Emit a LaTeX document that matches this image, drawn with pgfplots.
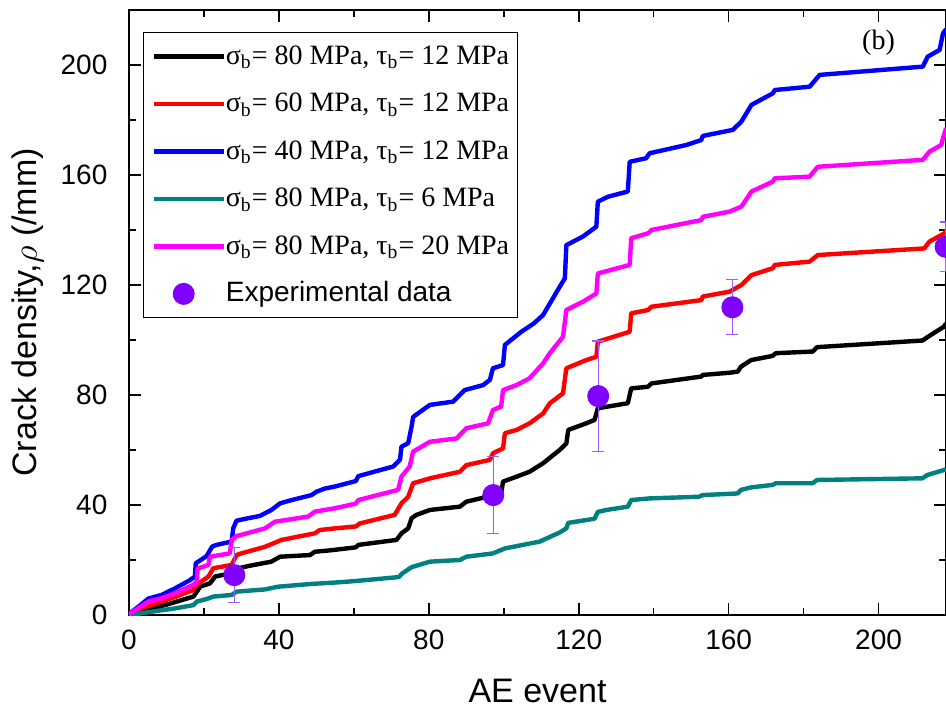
\documentclass[border=0pt]{standalone}
\usepackage{fontspec}
\setmainfont{Liberation Sans}
\setsansfont{Liberation Sans}
\newfontfamily\lserif{Liberation Serif}
\usepackage{pgfplots}
\pgfplotsset{compat=1.18}

\definecolor{cteal}{RGB}{0,128,128}
\definecolor{cmag}{RGB}{255,0,255}
\definecolor{cvio}{RGB}{127,0,255}
\definecolor{cerr}{RGB}{160,90,255}

\pgfplotsset{dotlegend/.style={legend image code/.code={\draw[##1] plot coordinates {(15pt,0pt)};}}}

\begin{document}
\begin{tikzpicture}[trim axis right]
\begin{axis}[
    scale only axis,
    width=408.5pt, height=302.5pt,
    xmin=0, xmax=218, ymin=0, ymax=220,
    xtick={0,40,...,200}, ytick={0,40,...,200},
    minor x tick num=1, minor y tick num=1,
    major tick length=6pt, minor tick length=3.5pt,
    tick style={black, line width=0.8pt},
    axis line style={line width=1pt},
    /pgf/number format/assume math mode=true,
    tick label style={font=\fontsize{14}{16}\selectfont},
    xticklabel style={yshift=-3.8pt},
    yticklabel style={xshift=-7.3pt},
    xlabel={AE event},
    ylabel={Crack density,$\rho$ (/mm)},
    label style={font=\fontsize{17}{20}\selectfont},
    xlabel style={at={(axis description cs:0.5,0)}, anchor=north, yshift=-28.3pt},
    ylabel style={at={([xshift=-50.5pt]axis description cs:0,0.5)}, anchor=center},
    legend image code/.code={\draw[mark repeat=2,mark phase=2,#1] plot coordinates {(0pt,0pt)(17.5pt,0pt)(35pt,0pt)};},
    legend cell align=left,
    legend style={at={(rel axis cs:0.017,0.964)}, anchor=north west,
        draw=black, line width=0.6pt, inner sep=4pt,
        font=\lserif\fontsize{14}{16}\selectfont,
        nodes={inner sep=0pt, text height=12pt, text depth=4pt},
        row sep=7.75pt,
        /tikz/every even column/.append style={column sep=3.5pt}},
    every axis plot/.append style={line width=2.2pt, line join=round},
]
% sigma_b = 80, tau_b = 12
\addplot[black] coordinates {
(0,0)(0.5,0.4)(4.3,1.8)(9.6,3.6)(17.2,6.7)(18.1,8.5)(19,10.3)(21.6,11.5)(23,14)(27.4,15.2)(29.2,17)(31.8,17.8)
(38,19.4)(40.3,21.2)(48.3,21.8)(49.6,23)(53.6,23.5)(60.5,24.6)(61.2,25.5)(71.4,27.3)(72.7,29.7)(74.5,31.5)
(75.4,35.2)(76.7,36.4)(80.3,38.2)(88.3,39.4)(90,41.2)(99.3,44.2)(99.8,48.5)(103.4,50.3)(106.9,52.1)(110.5,55.2)
(114.9,60)(116.7,62.4)(117.2,67.3)(122,69.7)(124.2,70.9)(125.1,75.2)(133.1,77)(134,82.4)(138.5,83)(139.4,84.2)
(152.7,86.7)(153.1,87.3)(160.3,88.1)(162.4,88.5)(163.3,90.3)(166,92.7)(171.7,94.2)(172.6,95.2)(182.4,95.8)
(183.6,97.4)(211.7,99.8)(213,101)(217.4,104.8)(218,106)
};
\addlegendentry{σ\textsubscript{b}= 80 MPa, τ\textsubscript{b}= 12 MPa}
% sigma_b = 60, tau_b = 12
\addplot[red] coordinates {
(0,0)(0.5,0.6)(2.5,2.1)(6,3.6)(11.4,6.1)(17.2,9.1)(18.1,11)(21.2,14)(22.5,17)(27.4,18.2)(28.7,21.8)(30,22.4)
(36.3,24.8)(40.7,27.3)(49.6,29.7)(50.9,30.9)(54.9,31.5)(60.5,32.2)(61.6,33.3)(70.9,36.4)(72.7,40.6)(74.5,43)
(75.8,47.9)(80.3,49.7)(88.3,52.1)(90,54.5)(96.3,56.4)(97.1,58.8)(99.8,60.6)(100.3,66.1)(103.4,67.3)(106.9,69.7)
(110.5,73.3)(112.3,77)(115.8,80.6)(116.7,89.7)(122,92.7)(124.7,93.9)(125.1,99.4)(133.6,103)(134,109.7)
(138.5,110.9)(139.4,112.1)(152.7,114.5)(153.1,115.8)(160.3,117.6)(163.4,120)(166.1,123.6)(171.8,126.1)
(172.3,127.3)(181.6,128.5)(183.8,130.9)(212.2,133.3)(213.6,135.8)(217.6,138.8)(218,140)
};
\addlegendentry{σ\textsubscript{b}= 60 MPa, τ\textsubscript{b}= 12 MPa}
% sigma_b = 40, tau_b = 12
\addplot[blue] coordinates {
(0,0)(0.5,0.9)(2.5,3)(5.2,6)(8.7,7.3)(12.3,9.7)(16.3,12.7)(17.6,14)(17.8,18.8)(20.7,21.4)(22.2,24.9)(23.4,25.5)
(27.4,26.7)(27.8,31.5)(28.7,34.3)(31.8,35.2)(34.9,36)(38,38.2)(40.3,40.6)(43.4,41.8)(48.7,43.6)(50,44.8)
(52.3,46)(54.9,46.7)(60.5,48.7)(61.2,50.5)(70.5,54)(72.3,56.4)(72.7,61.2)(74.5,62.5)(75.4,68.5)(75.8,72)
(77.1,73.3)(80.3,76.4)(86.5,77.6)(89.6,81.8)(94.5,83.6)(96.3,85.5)(97.1,89.7)(99.8,90.9)(100.3,98.2)
(104.7,103)(108,106)(110.5,109.1)(114.9,119.3)(116.3,122.4)(116.7,134.5)(121.1,137.6)(124.7,141.2)
(125.1,150.3)(127.8,152.1)(133.1,154)(133.6,164.8)(138,166.1)(138.9,167.9)(148.7,170.9)(152.7,172.7)
(153.1,174.2)(161.1,176.4)(163.4,179.4)(166.1,185.5)(171.8,189.7)(172.3,190.9)(181.6,192.1)(184.3,196.4)
(211.8,199.4)(213.1,203)(216.3,205.5)(217.2,211.5)(218,213)
};
\addlegendentry{σ\textsubscript{b}= 40 MPa, τ\textsubscript{b}= 12 MPa}
% sigma_b = 80, tau_b = 6
\addplot[cteal] coordinates {
(0,0)(6,1.2)(12.3,2.4)(17.2,3.6)(18.1,4.9)(20.7,5.8)(22.5,6.7)(27.4,7.3)(28.7,8.5)(36.3,9.3)(39.8,10.3)
(48.7,11.3)(54.9,11.8)(60,12.3)(72,13.8)(73,15.2)(75.4,17.4)(80.3,19.4)(88.3,20)(90,21.2)(97.1,22.4)
(100.3,24.2)(109.6,26.7)(114.9,30)(116.7,31.5)(117.2,33.5)(124.2,35)(125.1,37.5)(127.4,38.2)(133.1,39.4)
(134,41.8)(138.9,42.4)(152.1,43)(153,43.6)(162.4,44.2)(163.3,45.5)(166,46.4)(171.7,47.3)(172.6,47.9)
(182.4,47.9)(183.6,49.1)(211.7,49.7)(213,50.9)(217.4,52.7)(218,53)
};
\addlegendentry{σ\textsubscript{b}= 80 MPa, τ\textsubscript{b}= 6 MPa}
% sigma_b = 80, tau_b = 20
\addplot[cmag] coordinates {
(0,0)(0.5,0.8)(2.5,2.5)(5.2,4.9)(8.7,6.1)(12.3,7.9)(17.2,11)(18.1,12.1)(18.3,16.9)(21.2,18.2)(21.6,21.2)
(26.9,22.4)(27.4,27.3)(28.7,28.7)(36.3,31.5)(38.9,33.9)(47.8,35.8)(49.6,37.6)(54.9,38.8)(60.5,40.5)(61.2,41.8)
(71.8,45.5)(72.7,50.3)(74.9,54)(75.8,59.4)(80.3,63)(87.4,64.2)(90,67.9)(95.8,69.7)(97.1,74.5)(99.3,75.8)
(99.8,81.8)(103.4,83.6)(106.9,86.1)(110.5,91.5)(112.3,95.2)(115.8,101.2)(116.7,110.9)(121.1,113.9)
(124.7,116.9)(125.1,124.2)(133.6,127.3)(134,137)(138.5,138.8)(139.4,140)(152.7,143.6)(153.1,144.8)
(160.3,146.7)(163.4,148.5)(166.1,154)(171.8,157.6)(172.3,158.8)(181.6,159.4)(183.8,163)(211.8,165.5)
(213.6,168.5)(216.7,170.9)(217.6,175.2)(218,177)
};
\addlegendentry{σ\textsubscript{b}= 80 MPa, τ\textsubscript{b}= 20 MPa}
% experiment
\addplot[only marks, mark=*, mark size=5.2pt, color=cvio, line width=0.6pt, dotlegend,
    error bars/.cd, y dir=both, y explicit,
    error bar style={color=cerr, line width=0.6pt},
    error mark options={rotate=90, mark size=3pt, color=cerr, line width=0.6pt}]
    coordinates {
    (28.1,14.5) +- (0,10)
    (97.2,43.6) +- (0,14)
    (125.2,79.6) +- (0,20)
    (161,111.9) +- (0,10)
    (217.9,133.9) +- (0,9)
};
\addlegendentry{\sffamily Experimental data}
\node[font=\lserif\fontsize{14}{16}\selectfont] at (axis cs:200,208) {(b)};
\end{axis}
\path ([xshift=-64.5pt,yshift=-51pt]current axis.south west) rectangle ([yshift=5pt]current axis.north east);
\end{tikzpicture}
\end{document}
